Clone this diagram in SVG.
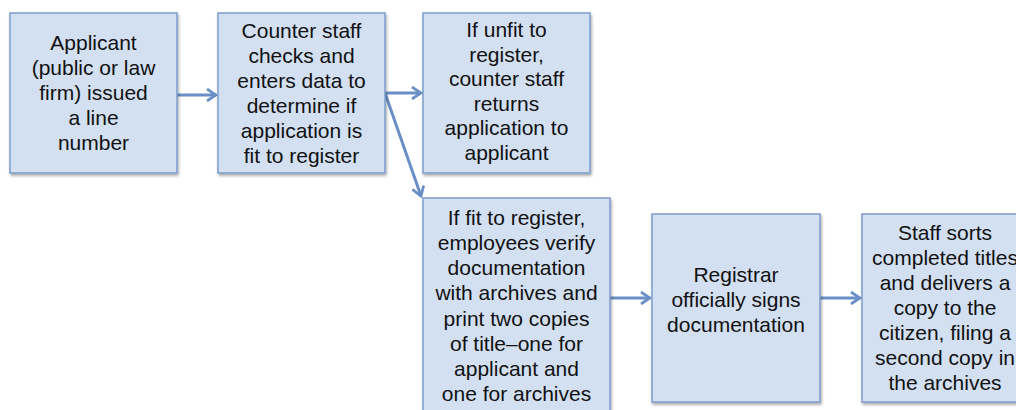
<svg xmlns="http://www.w3.org/2000/svg" width="1016" height="410" viewBox="0 0 1016 410">
<style>
.box{fill:#d3e0f1;stroke:#7c9dcb;stroke-width:1.5}
.t{font-family:"Liberation Sans",Arial,sans-serif;font-size:21px;fill:#111;text-anchor:middle}
.c{fill:none;stroke:#6a8fc6;stroke-width:3}
</style>
<defs>
<filter id="sh" x="-10%" y="-10%" width="130%" height="130%">
<feGaussianBlur in="SourceAlpha" stdDeviation="1.5"/>
<feOffset dx="1" dy="2"/>
<feComponentTransfer><feFuncA type="linear" slope="0.35"/></feComponentTransfer>
<feMerge><feMergeNode/><feMergeNode in="SourceGraphic"/></feMerge>
</filter>
<marker id="ah" markerWidth="12" markerHeight="14" refX="10" refY="7" orient="auto" markerUnits="userSpaceOnUse">
<path d="M1,1 L10,7 L1,13" fill="none" stroke="#6a8fc6" stroke-width="2.8" stroke-linejoin="miter"/>
</marker>
</defs>
<rect width="1016" height="410" fill="#fff"/>
<g id="connectors">
<line class="c" x1="177" y1="95" x2="216" y2="95" marker-end="url(#ah)"/>
<line class="c" x1="385" y1="93" x2="421" y2="93" marker-end="url(#ah)"/>
<line class="c" x1="385" y1="93" x2="421" y2="196" marker-end="url(#ah)"/>
<line class="c" x1="610" y1="298" x2="650" y2="298" marker-end="url(#ah)"/>
<line class="c" x1="820" y1="298" x2="860" y2="298" marker-end="url(#ah)"/>
</g>
<g id="n1">
<rect class="box" x="10" y="13" width="167" height="160" filter="url(#sh)"/>
<text class="t"><tspan x="93.5" y="50">Applicant</tspan><tspan x="93.5" y="75">(public or law</tspan><tspan x="93.5" y="100">firm) issued</tspan><tspan x="93.5" y="125">a line</tspan><tspan x="93.5" y="150">number</tspan></text>
</g>
<g id="n2">
<rect class="box" x="218" y="13" width="167" height="160" filter="url(#sh)"/>
<text class="t"><tspan x="301.5" y="38">Counter staff</tspan><tspan x="301.5" y="63">checks and</tspan><tspan x="301.5" y="88">enters data to</tspan><tspan x="301.5" y="113">determine if</tspan><tspan x="301.5" y="138">application is</tspan><tspan x="301.5" y="163">fit to register</tspan></text>
</g>
<g id="n3">
<rect class="box" x="423" y="13" width="167" height="160" filter="url(#sh)"/>
<text class="t"><tspan x="506.5" y="37">If unfit to</tspan><tspan x="506.5" y="62">register,</tspan><tspan x="506.5" y="86">counter staff</tspan><tspan x="506.5" y="111">returns</tspan><tspan x="506.5" y="135">application to</tspan><tspan x="506.5" y="160">applicant</tspan></text>
</g>
<g id="n4">
<rect class="box" x="423" y="198" width="187" height="220" filter="url(#sh)"/>
<text class="t"><tspan x="516.5" y="225">If fit to register,</tspan><tspan x="516.5" y="250">employees verify</tspan><tspan x="516.5" y="275">documentation</tspan><tspan x="516.5" y="300">with archives and</tspan><tspan x="516.5" y="326">print two copies</tspan><tspan x="516.5" y="351">of title–one for</tspan><tspan x="516.5" y="376">applicant and</tspan><tspan x="516.5" y="401">one for archives</tspan></text>
</g>
<g id="n5">
<rect class="box" x="652" y="214" width="168" height="188" filter="url(#sh)"/>
<text class="t"><tspan x="736" y="282">Registrar</tspan><tspan x="736" y="307">officially signs</tspan><tspan x="736" y="332">documentation</tspan></text>
</g>
<g id="n6">
<rect class="box" x="862" y="214" width="168" height="188" filter="url(#sh)"/>
<text class="t"><tspan x="945" y="240">Staff sorts</tspan><tspan x="945" y="265">completed titles</tspan><tspan x="945" y="290">and delivers a</tspan><tspan x="945" y="315">copy to the</tspan><tspan x="945" y="340">citizen, filing a</tspan><tspan x="945" y="365">second copy in</tspan><tspan x="945" y="390">the archives</tspan></text>
</g>
</svg>
